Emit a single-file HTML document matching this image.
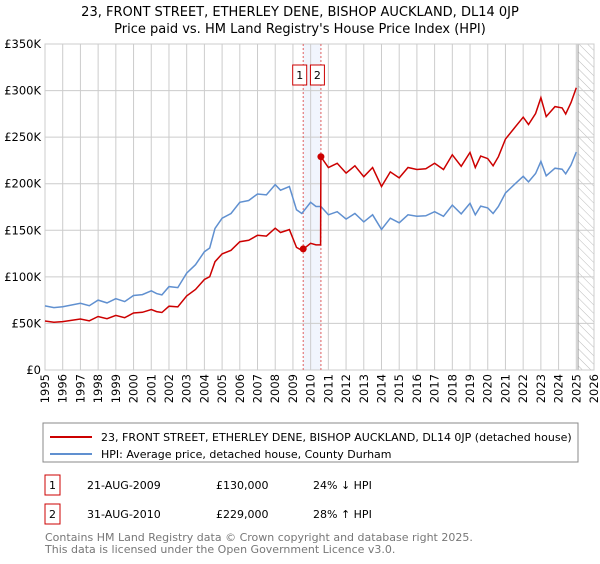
<!DOCTYPE html>
<html><head><meta charset="utf-8">
<style>
body{margin:0;background:#fff;font-family:"DejaVu Sans","Liberation Sans",sans-serif;}
svg text{font-family:"DejaVu Sans","Liberation Sans",sans-serif;}
</style></head>
<body>
<svg id="chart" width="600" height="560" viewBox="0 0 600 560">
<defs>
<pattern id="hatch" width="6" height="6" patternUnits="userSpaceOnUse" patternTransform="rotate(-45)">
<line x1="0" y1="0" x2="0" y2="6" stroke="#bbb" stroke-width="1"/>
</pattern>
</defs>
<text x="300" y="16" text-anchor="middle" font-size="13" fill="#000">23, FRONT STREET, ETHERLEY DENE, BISHOP AUCKLAND, DL14 0JP</text>
<text x="300" y="33" text-anchor="middle" font-size="13" fill="#000">Price paid vs. HM Land Registry's House Price Index (HPI)</text>
<g id="grid"></g>
<g id="marks"></g>
<g id="axes"></g>
<rect x="43" y="423" width="535" height="39" fill="#fff" stroke="#888"/>
<line x1="50" y1="437" x2="92" y2="437" stroke="#cc0000" stroke-width="2"/>
<text x="101" y="441" font-size="11">23, FRONT STREET, ETHERLEY DENE, BISHOP AUCKLAND, DL14 0JP (detached house)</text>
<line x1="50" y1="454" x2="92" y2="454" stroke="#6090d0" stroke-width="2"/>
<text x="101" y="458" font-size="11">HPI: Average price, detached house, County Durham</text>
<g>
<rect x="45" y="475" width="15" height="20" fill="#fff" stroke="#cc0000"/>
<text x="52.5" y="489" text-anchor="middle" font-size="11">1</text>
<text x="87" y="489" font-size="11">21-AUG-2009</text>
<text x="216" y="489" font-size="11">£130,000</text>
<text x="313" y="489" font-size="11">24% ↓ HPI</text>
</g>
<g>
<rect x="45" y="504" width="15" height="20" fill="#fff" stroke="#cc0000"/>
<text x="52.5" y="518" text-anchor="middle" font-size="11">2</text>
<text x="87" y="518" font-size="11">31-AUG-2010</text>
<text x="216" y="518" font-size="11">£229,000</text>
<text x="313" y="518" font-size="11">28% ↑ HPI</text>
</g>
<text x="45" y="541" font-size="11" fill="#777">Contains HM Land Registry data © Crown copyright and database right 2025.</text>
<text x="45" y="553" font-size="11" fill="#777">This data is licensed under the Open Government Licence v3.0.</text>
</svg>
<script>
const hpiDates=[1995,1995.5,1996,1997,1997.5,1998,1998.5,1999,1999.5,2000,2000.5,2001,2001.3,2001.6,2002,2002.5,2003,2003.5,2004,2004.3,2004.6,2005,2005.5,2006,2006.5,2007,2007.5,2008,2008.3,2008.8,2009.2,2009.5,2010,2010.3,2010.58,2011,2011.5,2012,2012.5,2013,2013.5,2014,2014.5,2015,2015.5,2016,2016.5,2017,2017.5,2018,2018.5,2019,2019.3,2019.6,2020,2020.3,2020.6,2021,2021.5,2022,2022.3,2022.7,2023,2023.3,2023.8,2024.2,2024.4,2024.7,2025];
const hpiValues=[68.8,67,68,71.6,69,75,72,76.6,73.4,80,81,85,82,80.6,89.5,88.5,104,113,127,131,152,163,168,180,182,189,188,199,193,197,172,168,180,175.5,175.5,166.6,170,162,168,159,166.6,151,163,158,166.6,165,165.5,170,165,177,167.6,179,166.6,176,174,168,175.5,190,199,208,202,211,224,208.5,216.7,215.6,210.6,220,234];
const priceDates=[1995,1995.5,1996,1997,1997.5,1998,1998.5,1999,1999.5,2000,2000.5,2001,2001.3,2001.6,2002,2002.5,2003,2003.5,2004,2004.3,2004.6,2005,2005.5,2006,2006.5,2007,2007.5,2008,2008.3,2008.8,2009.2,2009.5,2010,2010.3,2010.56,2010.58,2011,2011.5,2012,2012.5,2013,2013.5,2014,2014.5,2015,2015.5,2016,2016.5,2017,2017.5,2018,2018.5,2019,2019.3,2019.6,2020,2020.3,2020.6,2021,2021.5,2022,2022.3,2022.7,2023,2023.3,2023.8,2024.2,2024.4,2024.7,2025];
const priceValues=[52.6,51.3,52,54.8,52.8,57.4,55.1,58.6,56.2,61.2,62,65,62.7,61.7,68.5,67.7,79.6,86.4,97.2,100.2,116.3,124.7,128.5,137.7,139.2,144.6,143.8,152.2,147.6,150.7,131.6,128.5,136,134.3,134.3,229,217.4,221.9,211.4,219.2,207.5,217.4,197,212.7,206.2,217.4,215.3,216,221.9,215.3,231,218.7,233.6,217.4,229.7,227,219.2,229,248,259.7,271.4,263.6,275.4,292.3,272.1,282.8,281.4,274.8,287.1,303];
const saleDates=[2009.58,2010.58];
const saleValues=[130,229];
const saleLabels=["1","2"];
const yTicks=[0,50,100,150,200,250,300,350];
const yTickLabels=["£0","£50K","£100K","£150K","£200K","£250K","£300K","£350K"];
const xTicks=[1995,1996,1997,1998,1999,2000,2001,2002,2003,2004,2005,2006,2007,2008,2009,2010,2011,2012,2013,2014,2015,2016,2017,2018,2019,2020,2021,2022,2023,2024,2025,2026];

const L=45,R=594,T=44,B=370,X0=1995,X1=2026,YMAX=350,DATA_END=2025.1;
const NS="http://www.w3.org/2000/svg";
const sx=v=>L+(v-X0)/(X1-X0)*(R-L);
const sy=v=>B-v/YMAX*(B-T);
function mk(parent,tag,attrs){const e=document.createElementNS(NS,tag);for(const k in attrs)e.setAttribute(k,attrs[k]);parent.appendChild(e);return e;}
const grid=document.getElementById('grid'),marks=document.getElementById('marks'),axes=document.getElementById('axes');

let bg=mk(grid,'rect',{x:L,y:T,width:R-L,height:B-T,fill:'#fff'});


let band=mk(grid,'rect',{x:sx(saleDates[0]),y:T,width:sx(saleDates[1])-sx(saleDates[0]),height:B-T,fill:'#f1f5fd'});


let hatch=mk(grid,'rect',{x:sx(DATA_END),y:T,width:R-sx(DATA_END),height:B-T,fill:'url(#hatch)'});


yTicks.forEach((t,i)=>{
  let g=mk(grid,'line',{x1:L,x2:R,y1:sy(t),y2:sy(t),stroke:'#ccc','stroke-width':1});
  
  
  let tx=mk(axes,'text',{x:L-4,y:sy(t)+4,'text-anchor':'end','font-size':11.5});
  tx.textContent=yTickLabels[i];
  
  
});
xTicks.forEach(t=>{
  let g=mk(grid,'line',{x1:sx(t),x2:sx(t),y1:T,y2:B,stroke:'#ccc','stroke-width':1});
  
  
  let tx=mk(axes,'text',{x:0,y:0,'text-anchor':'end','font-size':11.5,transform:`translate(${sx(t)+4},${B+4}) rotate(-90)`});
  tx.textContent=String(t);
  
  
});
let endLine=mk(grid,'line',{x1:sx(DATA_END),x2:sx(DATA_END),y1:T,y2:B,stroke:'#999','stroke-width':1});


let frame=mk(grid,'rect',{x:L,y:T,width:R-L,height:B-T,fill:'none',stroke:'#ccc'});



saleDates.forEach((d,i)=>{
  let v=mk(marks,'line',{x1:sx(d),x2:sx(d),y1:T,y2:B,stroke:'#e06060','stroke-width':1,'stroke-dasharray':'2,2'});
  
  
});
function path(dates,vals){return dates.map((d,i)=>(i?'L':'M')+sx(d).toFixed(1)+','+sy(vals[i]).toFixed(1)).join('');}
let hp=mk(marks,'path',{d:path(hpiDates,hpiValues),fill:'none',stroke:'#6090d0','stroke-width':1.5});


let pp=mk(marks,'path',{d:path(priceDates,priceValues),fill:'none',stroke:'#cc0000','stroke-width':1.5});


saleDates.forEach((d,i)=>{
  let c=mk(marks,'circle',{cx:sx(d),cy:sy(saleValues[i]),r:3.5,fill:'#cc0000'});
  
  
  const bx=sx(d)-3.5;
  let r=mk(marks,'rect',{x:bx-7,y:65,width:14,height:20,fill:'#fff',stroke:'#cc0000'});
  
  
  let t=mk(marks,'text',{x:bx,y:79,'text-anchor':'middle','font-size':11});
  t.textContent=saleLabels[i];
  
  
});
</script>
</body></html>
